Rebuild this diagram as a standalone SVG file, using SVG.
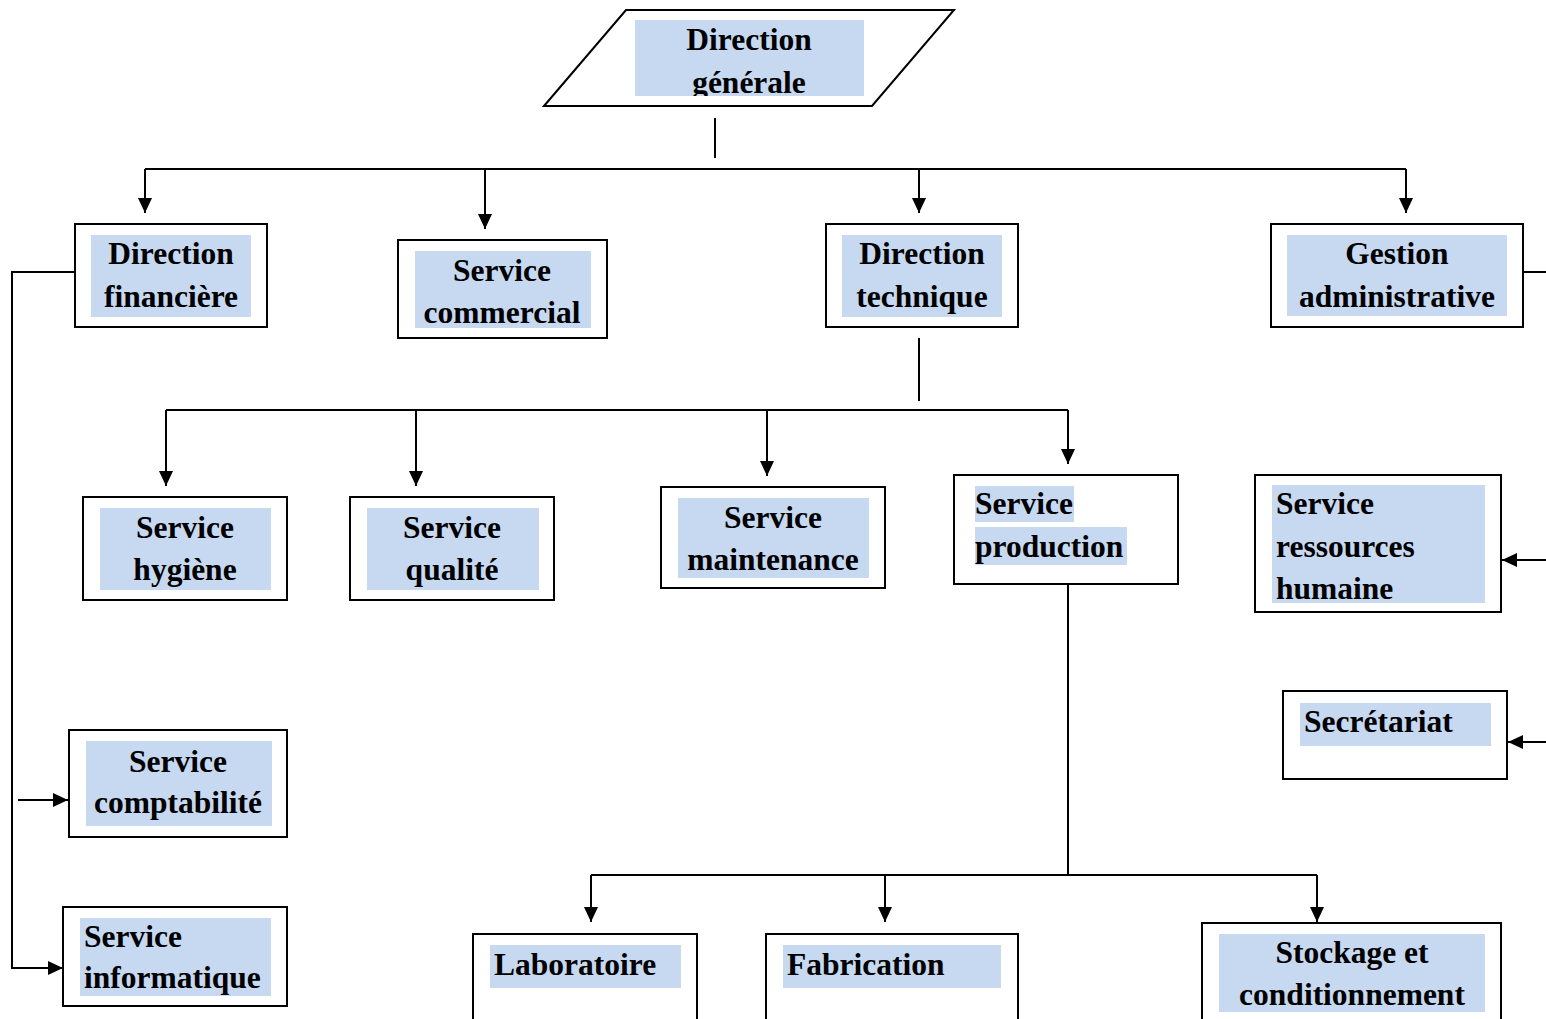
<svg xmlns="http://www.w3.org/2000/svg" width="1546" height="1019" viewBox="0 0 1546 1019">
<style>
.box{fill:#fff;stroke:#000;stroke-width:2}
.hl{fill:#C6D9F1}
.t{font-family:"Liberation Serif","Times New Roman",serif;font-weight:bold;font-size:31.5px;fill:#000}
.c{text-anchor:middle}
.ln{fill:none;stroke:#000;stroke-width:2}
</style>
<defs>
<marker id="ah" markerUnits="userSpaceOnUse" markerWidth="15" markerHeight="14" refX="15" refY="7" orient="auto">
<path d="M0,0 L15,7 L0,14 z" fill="#000"/>
</marker>
<clipPath id="dgclip"><rect x="635" y="20" width="229" height="76"/></clipPath>
</defs>
<rect width="1546" height="1019" fill="#fff"/>

<g id="connectors">
<path class="ln" d="M715,118 V158"/>
<path class="ln" d="M145,169 H1406"/>
<path class="ln" d="M145,169 V213" marker-end="url(#ah)"/>
<path class="ln" d="M485,169 V229" marker-end="url(#ah)"/>
<path class="ln" d="M919,169 V213" marker-end="url(#ah)"/>
<path class="ln" d="M1406,169 V213" marker-end="url(#ah)"/>
<path class="ln" d="M75,272 H12 V968 H63" marker-end="url(#ah)"/>
<path class="ln" d="M18,800 H68" marker-end="url(#ah)"/>
<path class="ln" d="M1523,272 H1546"/>
<path class="ln" d="M1546,560 H1502" marker-end="url(#ah)"/>
<path class="ln" d="M1546,742 H1508" marker-end="url(#ah)"/>
<path class="ln" d="M919,338 V401"/>
<path class="ln" d="M166,410 H1068"/>
<path class="ln" d="M166,410 V486" marker-end="url(#ah)"/>
<path class="ln" d="M416,410 V486" marker-end="url(#ah)"/>
<path class="ln" d="M767,410 V476" marker-end="url(#ah)"/>
<path class="ln" d="M1068,410 V464" marker-end="url(#ah)"/>
<path class="ln" d="M1068,584 V875"/>
<path class="ln" d="M591,875 H1317"/>
<path class="ln" d="M591,875 V922" marker-end="url(#ah)"/>
<path class="ln" d="M885,875 V922" marker-end="url(#ah)"/>
<path class="ln" d="M1317,875 V922" marker-end="url(#ah)"/>
</g>

<g id="direction-generale">
<polygon class="box" points="544,106 626,10 954,10 872,106"/>
<rect class="hl" x="635" y="20" width="229" height="76"/>
<g clip-path="url(#dgclip)">
<text class="t c" x="749" y="50">Direction</text>
<text class="t c" x="749" y="93">générale</text>
</g>
</g>

<g id="direction-financiere">
<rect class="box" x="75" y="224" width="192" height="103"/>
<rect class="hl" x="91" y="235" width="160" height="82"/>
<text class="t c" x="171" y="264">Direction</text>
<text class="t c" x="171" y="307">financière</text>
</g>

<g id="service-commercial">
<rect class="box" x="398" y="240" width="209" height="98"/>
<rect class="hl" x="415" y="251" width="176" height="77"/>
<text class="t c" x="502" y="281">Service</text>
<text class="t c" x="502" y="323">commercial</text>
</g>

<g id="direction-technique">
<rect class="box" x="826" y="224" width="192" height="103"/>
<rect class="hl" x="842" y="235" width="160" height="82"/>
<text class="t c" x="922" y="264">Direction</text>
<text class="t c" x="922" y="307">technique</text>
</g>

<g id="gestion-administrative">
<rect class="box" x="1271" y="224" width="252" height="103"/>
<rect class="hl" x="1287" y="235" width="220" height="81"/>
<text class="t c" x="1397" y="264">Gestion</text>
<text class="t c" x="1397" y="307">administrative</text>
</g>

<g id="service-hygiene">
<rect class="box" x="83" y="497" width="204" height="103"/>
<rect class="hl" x="100" y="508" width="171" height="82"/>
<text class="t c" x="185" y="538">Service</text>
<text class="t c" x="185" y="580">hygiène</text>
</g>

<g id="service-qualite">
<rect class="box" x="350" y="497" width="204" height="103"/>
<rect class="hl" x="367" y="508" width="172" height="82"/>
<text class="t c" x="452" y="538">Service</text>
<text class="t c" x="452" y="580">qualité</text>
</g>

<g id="service-maintenance">
<rect class="box" x="661" y="487" width="224" height="101"/>
<rect class="hl" x="678" y="498" width="191" height="80"/>
<text class="t c" x="773" y="528">Service</text>
<text class="t c" x="773" y="570">maintenance</text>
</g>

<g id="service-production">
<rect class="box" x="954" y="475" width="224" height="109"/>
<rect class="hl" x="975" y="486" width="99" height="36"/>
<rect class="hl" x="975" y="527" width="152" height="38"/>
<text class="t" x="975" y="514">Service</text>
<text class="t" x="975" y="557">production</text>
</g>

<g id="service-rh">
<rect class="box" x="1255" y="475" width="246" height="137"/>
<rect class="hl" x="1272" y="485" width="213" height="118"/>
<text class="t" x="1276" y="514">Service</text>
<text class="t" x="1276" y="557">ressources</text>
<text class="t" x="1276" y="599">humaine</text>
</g>

<g id="secretariat">
<rect class="box" x="1283" y="691" width="224" height="88"/>
<rect class="hl" x="1300" y="703" width="191" height="43"/>
<text class="t" x="1304" y="732">Secrétariat</text>
</g>

<g id="service-comptabilite">
<rect class="box" x="69" y="730" width="218" height="107"/>
<rect class="hl" x="86" y="741" width="186" height="85"/>
<text class="t c" x="178" y="772">Service</text>
<text class="t c" x="178" y="813">comptabilité</text>
</g>

<g id="service-informatique">
<rect class="box" x="63" y="907" width="224" height="99"/>
<rect class="hl" x="80" y="918" width="191" height="78"/>
<text class="t" x="84" y="947">Service</text>
<text class="t" x="84" y="988">informatique</text>
</g>

<g id="laboratoire">
<rect class="box" x="473" y="934" width="224" height="100"/>
<rect class="hl" x="490" y="945" width="191" height="43"/>
<text class="t" x="494" y="975">Laboratoire</text>
</g>

<g id="fabrication">
<rect class="box" x="766" y="934" width="252" height="100"/>
<rect class="hl" x="783" y="945" width="218" height="43"/>
<text class="t" x="787" y="975">Fabrication</text>
</g>

<g id="stockage">
<rect class="box" x="1202" y="923" width="299" height="110"/>
<rect class="hl" x="1219" y="934" width="266" height="78"/>
<text class="t c" x="1352" y="963">Stockage et</text>
<text class="t c" x="1352" y="1005">conditionnement</text>
</g>
</svg>
